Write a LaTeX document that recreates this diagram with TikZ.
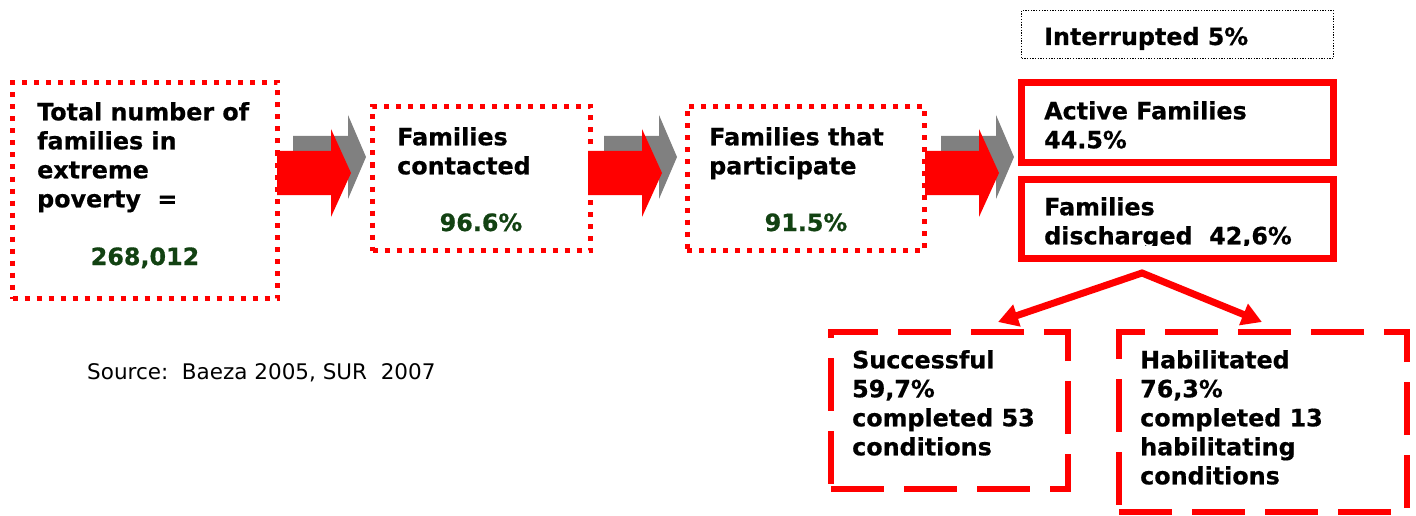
\documentclass[tikz,border=0pt]{standalone}
\usepackage{fontspec}
\setmainfont{DejaVu Sans}[BoldFeatures={FakeBold=0.6}]
\usetikzlibrary{arrows.meta,calc}
\definecolor{pred}{RGB}{255,0,0}
\definecolor{pgreen}{RGB}{18,66,18}
\definecolor{pgray}{RGB}{128,128,128}

\begin{document}
\begin{tikzpicture}[x=1pt,y=-1pt,
  dotbox/.style={rectangle, draw=pred, line width=5pt, dash pattern=on 5pt off 7pt, inner sep=0pt},
  solidbox/.style={rectangle, draw=pred, line width=7pt, inner sep=0pt},
  finebox/.style={rectangle, draw=black, line width=1.3pt, dash pattern=on 1.3pt off 1.4pt, inner sep=0pt},
  dashbox/.style={rectangle, draw=pred, line width=6pt, dash pattern=on 53pt off 20pt, inner sep=0pt},
  txt/.style={anchor=north west, inner sep=0pt, align=left, font=\bfseries\fontsize{23.8}{29}\selectfont},
  num/.style={anchor=base, inner sep=0pt, text=pgreen, font=\bfseries\fontsize{23.8}{29}\selectfont},
  splitarrow/.style={draw=pred, line width=7pt, line join=miter,
    {Triangle[length=20pt,width=22pt]}-{Triangle[length=20pt,width=22pt]}},
  pics/fatarrow/.style={code={
    \fill[pgray] (16,-37) -- (71,-37) -- (71,-58) -- (89,-16) -- (71,26) -- (71,5) -- (16,5) -- cycle;
    \fill[pred] (0,-22) -- (54,-22) -- (54,-44) -- (74,0) -- (54,44) -- (54,22) -- (0,22) -- cycle;
  }}
]
\useasboundingbox (0,0) rectangle (1416,516);

% flow of families, left to right
\node[dotbox, minimum width=265pt, minimum height=216pt] (total) at (145,190.5) {};
\node[dotbox, minimum width=218pt, minimum height=144pt] (contacted) at (481.5,178.5) {};
\node[dotbox, minimum width=237.5pt, minimum height=144pt] (participate) at (806,178.5) {};

\node[txt] (total-t) at (37,102) {\rule{0pt}{18pt}Total number of\\families in\\extreme\\poverty\ \ =};
\node[num] (total-n) at (145,265) {268,012};
\node[txt] (contacted-t) at (397,127) {\rule{0pt}{18pt}Families\\contacted};
\node[num] (contacted-n) at (481,231) {96.6\%};
\node[txt] (participate-t) at (709,127) {\rule{0pt}{18pt}Families that\\participate};
\node[num] (participate-n) at (806,231) {91.5\%};

% block arrows between the stages
\pic (a1) at (277,173) {fatarrow};
\pic (a2) at (588,173) {fatarrow};
\pic (a3) at (925,173) {fatarrow};

% outcome column
\node[finebox, minimum width=312pt, minimum height=48pt] (interrupted) at (1177.5,34.5) {};
\node[anchor=base west, inner sep=0pt, font=\bfseries\fontsize{23.8}{29}\selectfont] (interrupted-t) at (1044,45) {Interrupted 5\%};
\node[solidbox, minimum width=312pt, minimum height=80pt] (active) at (1177.5,122.5) {};
\node[txt] (active-t) at (1044,101) {\rule{0pt}{18pt}Active Families\\44.5\%};
\node[solidbox, minimum width=312pt, minimum height=79pt] (disc) at (1177.5,218.5) {};
\begin{scope}
  \clip (1024,182) rectangle (1331,245);
  \node[txt] (disc-t) at (1044,197) {\rule{0pt}{18pt}Families\\discharged\ \ 42,6\%};
\end{scope}

% split of discharged families
\node[dashbox, minimum width=237pt, minimum height=157pt] (succ) at (949.5,410.5) {};
\node[dashbox, minimum width=288pt, minimum height=180pt] (hab) at (1263,422) {};
\node[txt] (succ-t) at (852,350) {\rule{0pt}{18pt}Successful\\59,7\%\\completed 53\\conditions};
\node[txt] (hab-t) at (1140,350) {\rule{0pt}{18pt}Habilitated\\76,3\%\\completed 13\\habilitating\\conditions};

\coordinate (apex) at ($(disc.south)+(-35.5,11.5)$);
\draw[splitarrow] ($(succ.north)+(48.5,-7)$) -- (apex) -- ($(hab.north)+(-1,-7)$);

% source note
\node[anchor=base west, inner sep=0pt, font=\fontsize{21.5}{26}\selectfont] (source) at (87,379) {Source:\ \ Baeza 2005, SUR\ \ 2007};
\end{tikzpicture}
\end{document}
